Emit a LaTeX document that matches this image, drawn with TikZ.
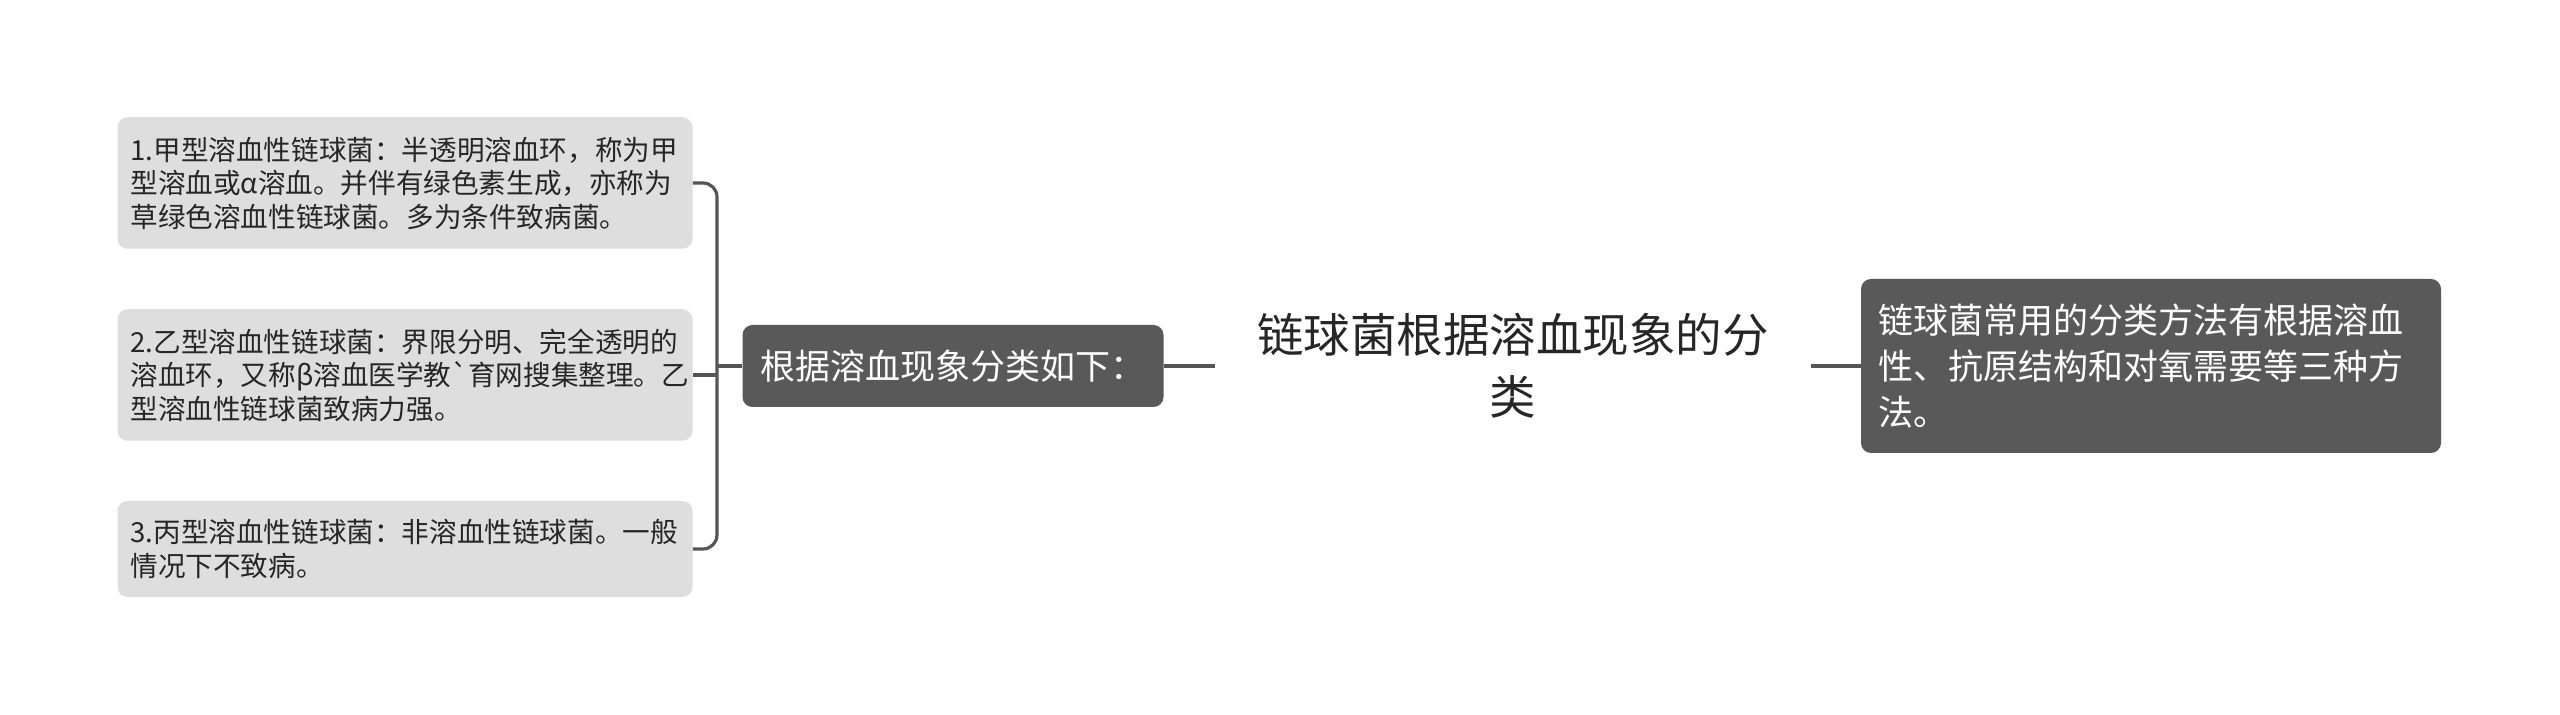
\documentclass[tikz,border=0pt]{standalone}
\usepackage{fontspec}
\usepackage{xcolor}
\usepackage{tikz}
\newfontfamily\cjk{Noto Sans CJK SC}
\definecolor{leaffill}{HTML}{DEDEDE}
\definecolor{darkfill}{HTML}{595959}
\definecolor{linkgray}{HTML}{555555}
\definecolor{inkgray}{HTML}{262626}

\begin{document}
\begin{tikzpicture}[x=0.5pt, y=0.5pt,
    leaf/.style={fill=leaffill, rounded corners=5pt, align=left, text width=274.5pt, inner xsep=6.5pt, inner ysep=2pt, text=inkgray, font=\cjk\fontsize{13.8pt}{16.75pt}\selectfont},
    dark/.style={fill=darkfill, rounded corners=5pt, align=left, text=white, inner ysep=2pt, font=\cjk\fontsize{17.5pt}{23pt}\selectfont},
    link/.style={draw=linkgray, line width=1.6pt}]
    \useasboundingbox (0, 0) rectangle (2560, 715);

    \node[leaf, minimum height=65.75pt] at (405, 532) (s1) {1.甲型溶血性链球菌：半透明溶血环，称为甲\\型溶血或α溶血。并伴有绿色素生成，亦称为\\草绿色溶血性链球菌。多为条件致病菌。};
    \node[leaf, minimum height=65.75pt] at (405, 340) (s2) {2.乙型溶血性链球菌：界限分明、完全透明的\\溶血环，又称β溶血医学教`育网搜集整理。乙\\型溶血性链球菌致病力强。};
    \node[leaf, minimum height=48pt] at (405, 166) (s3) {3.丙型溶血性链球菌：非溶血性链球菌。一般\\情况下不致病。};

    \node[dark, text width=192.5pt, inner xsep=9pt, minimum height=41pt] at (953, 349) (mid) {根据溶血现象分类如下：};
    \node[align=center, inner xsep=21pt, text=inkgray, font=\cjk\fontsize{23.25pt}{31pt}\selectfont] at (1513, 349) (root) {链球菌根据溶血现象的分\\类};
    \node[dark, text width=273pt, inner xsep=8.5pt, minimum height=87pt] at (2151, 349) (method) {链球菌常用的分类方法有根据溶血\\性、抗原结构和对氧需要等三种方\\法。};

    \coordinate (fork) at (717, 349);

    % bracket on the left
    \draw[link, rounded corners=7pt] (s1.east) -| (fork) |- (s3.east);
    \draw[link] (s2.east) -- (s2.east -| fork);
    \draw[link] (mid.west) -- (fork);

    \draw[link] (mid.east) -- (root.west);
    \draw[link] (root.east) -- (method.west);
\end{tikzpicture}
\end{document}
